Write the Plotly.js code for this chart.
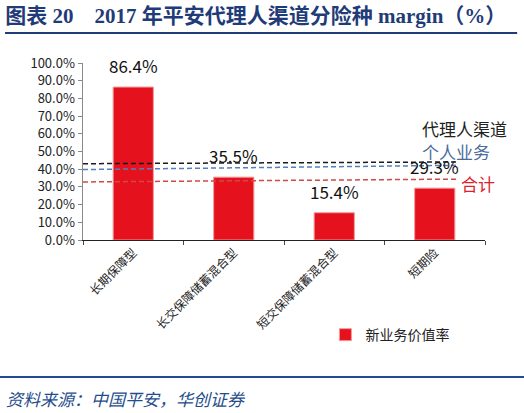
<!DOCTYPE html>
<html>
<head>
<meta charset="utf-8">
<script src="https://cdn.plot.ly/plotly-3.0.1.min.js"></script>
<style>
body{margin:0;padding:0;background:#fff}
#chart{width:524px;height:413px}
</style>
</head>
<body>
<div id="chart"></div>
<script>
// 险种
var categories = ['长期保障型', '长交保障储蓄混合型', '短交保障储蓄混合型', '短期险']
// 新业务价值率 (%)
var nbvMargin = [86.4, 35.5, 15.4, 29.3]
var seriesName = '新业务价值率'

// 参考线：代理人渠道 / 个人业务 / 合计 (左端, 右端)
var refNames = ['代理人渠道', '个人业务', '合计']
var refLeft = [43.1, 39.8, 32.8]
var refRight = [44.1, 42.2, 34.4]
var refLabelY = [63.0, 50.0, 32.2]
var refColors = ['#1a1a1a', '#4f81bd', '#d04848']
var refTextColors = ['#222222', '#4a6c9b', '#e0202a']

var yTicks = [0, 10, 20, 30, 40, 50, 60, 70, 80, 90, 100]
var yTickText = yTicks.map(function (v) { return v.toFixed(1) + '%' })

var cjk = '"Noto Sans CJK SC", "DejaVu Sans", sans-serif'

var bars = {
	type: 'bar',
	x: categories,
	y: nbvMargin,
	name: seriesName,
	width: 0.4,
	marker: {
		color: '#e5121d',
		line: {color: '#f29a9a', width: 1}
	},
	hoverinfo: 'none'
}

var dane = [bars]

for (var i = 0; i < refNames.length; i++) {
	dane.push({
		type: 'scatter',
		mode: 'lines',
		xaxis: 'x2',
		yaxis: 'y',
		x: [-0.5, 3.24],
		y: [refLeft[i], refRight[i]],
		showlegend: false,
		hoverinfo: 'none',
		line: {color: refColors[i], width: 1.5, dash: '5px,3px'}
	})
}

var notes = []

// 柱顶数值
for (var i = 0; i < categories.length; i++) {
	notes.push({
		x: categories[i], y: nbvMargin[i], xref: 'x', yref: 'y',
		text: nbvMargin[i].toFixed(1) + '%',
		showarrow: false, yanchor: 'bottom', yshift: 7,
		font: {family: cjk, size: 17, color: '#111'}
	})
}

// 参考线说明
var labelX = [2.85, 2.85, 3.24]
for (var i = 0; i < refNames.length; i++) {
	notes.push({
		x: labelX[i], y: refLabelY[i], xref: 'x2', yref: 'y',
		text: refNames[i], showarrow: false, xanchor: 'left', yanchor: 'middle',
		font: {family: cjk, size: 17, color: refTextColors[i]}
	})
}

// 资料来源
notes.push({
	x: -0.196, y: -0.893, xref: 'paper', yref: 'paper',
	text: '<i>资料来源：中国平安，华创证券</i>',
	showarrow: false, xanchor: 'left', yanchor: 'middle',
	font: {family: cjk, size: 17, color: '#1f4e8c'}
})

var layout = {
	width: 524,
	height: 413,
	margin: {l: 83, r: 39, t: 63, b: 173},
	paper_bgcolor: '#fff',
	plot_bgcolor: '#fff',
	title: {
		text: '<b>图表 20\u00a0\u00a0\u00a0\u00a02017 年平安代理人渠道分险种 margin（%）</b>',
		x: 0.01, xanchor: 'left', xref: 'container',
		y: 0.963, yanchor: 'middle', yref: 'container',
		font: {family: '"Liberation Serif", "Noto Sans CJK SC", serif', size: 21, color: '#1f3c78'}
	},
	xaxis: {
		type: 'category',
		range: [-0.5, 3.5],
		showline: true, linecolor: '#222', linewidth: 1,
		ticks: 'outside', tickson: 'boundaries', ticklen: 4, tickcolor: '#444',
		tickangle: -45,
		tickfont: {family: cjk, size: 12, color: '#222'},
		showgrid: false, zeroline: false, fixedrange: true
	},
	xaxis2: {
		overlaying: 'x', range: [-0.5, 3.5], visible: false, fixedrange: true
	},
	yaxis: {
		range: [0, 100],
		tickvals: yTicks,
		ticktext: yTickText,
		showline: true, linecolor: '#888', linewidth: 1.5,
		ticks: 'outside', ticklen: 4, tickcolor: '#888',
		tickfont: {family: cjk, size: 13, color: '#222'},
		showgrid: false, zeroline: false, fixedrange: true
	},
	showlegend: true,
	legend: {
		orientation: 'h', x: 0.603, y: -0.537, xanchor: 'left', yanchor: 'middle',
		font: {family: cjk, size: 14, color: '#222'},
		bgcolor: 'rgba(0,0,0,0)'
	},
	annotations: notes,
	shapes: [
		{type: 'line', xref: 'paper', yref: 'paper', x0: -0.194, x1: 1.08, y0: 1.17, y1: 1.17,
			line: {color: '#1f3c78', width: 2}},
		{type: 'line', xref: 'paper', yref: 'paper', x0: -0.21, x1: 1.1, y0: -0.774, y1: -0.774,
			line: {color: '#1f4e8c', width: 2}}
	]
}

Plotly.newPlot('chart', dane, layout, {displayModeBar: false, staticPlot: true})
</script>
</body>
</html>
